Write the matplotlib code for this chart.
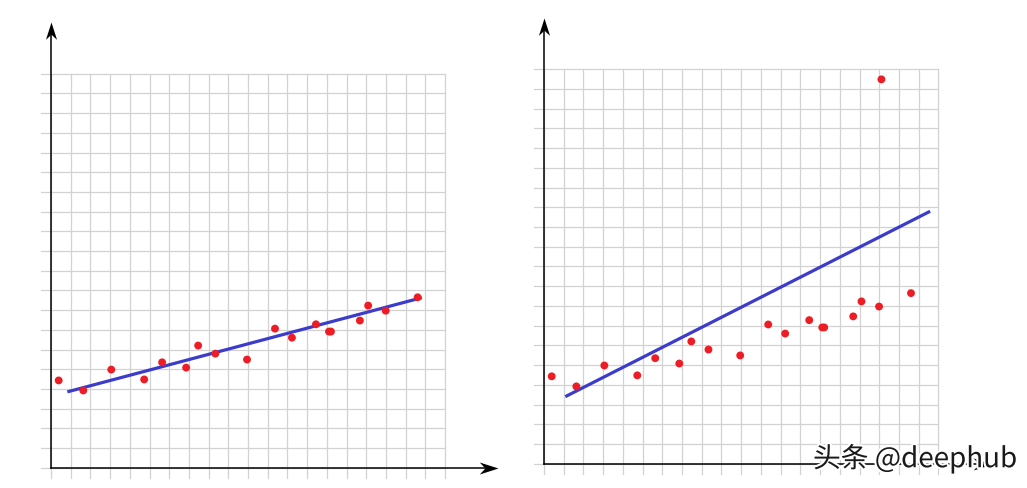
import matplotlib
matplotlib.use("Agg")
import matplotlib.pyplot as plt
from matplotlib import patheffects
from matplotlib.path import Path

# data in grid units (one unit = one grid cell)
x_pts = [0.39, 1.64, 3.06, 4.73, 5.64, 6.86, 7.47, 8.34, 9.95, 11.37, 12.23,
         13.45, 14.11, 14.21, 15.68, 16.10, 16.99, 18.61]
y_pts = [4.43, 3.92, 4.98, 4.48, 5.35, 5.08, 6.20, 5.79, 5.49, 7.06, 6.60,
         7.28, 6.91, 6.91, 7.47, 8.23, 7.97, 8.65]

# the extra point in the right chart
outlier_x = [17.11]
outlier_y = [19.49]

# fitted lines
fit_left_x = [0.83, 18.82]
fit_left_y = [3.85, 8.63]
fit_right_x = [1.08, 19.58]
fit_right_y = [3.40, 12.80]

W, H = 1027, 488
fig = plt.figure(figsize=(W / 100, H / 100), dpi=100)

RED = "#ee1c25"
BLUE = "#3c3ccc"
GRID = "#d2d2d2"

# arrow heads with a notched back, tip at (0, 0)
up_head = Path([(0, 0), (-0.32, -1), (0, -0.7), (0.32, -1), (0, 0)],
               [Path.MOVETO, Path.LINETO, Path.LINETO, Path.LINETO, Path.CLOSEPOLY])
right_head = Path([(0, 0), (-1, 0.32), (-0.7, 0), (-1, -0.32), (0, 0)],
                  [Path.MOVETO, Path.LINETO, Path.LINETO, Path.LINETO, Path.CLOSEPOLY])


def make_axes(ox, oy, unit):
    # ox, oy: pixel position of the origin, unit: pixels per grid cell
    x0, x1 = -1.2, 23.2
    y0, y1 = -1.0, 23.2
    left = ox + x0 * unit
    bottom = oy - y0 * unit
    rect = [left / W, (H - bottom) / H, (x1 - x0) * unit / W, (y1 - y0) * unit / H]
    ax = fig.add_axes(rect)
    ax.set_xlim(x0, x1)
    ax.set_ylim(y0, y1)
    ax.axis("off")
    ax.patch.set_visible(False)

    # grid paper
    for i in range(21):
        ax.plot([i, i], [-0.5, 20], color=GRID, lw=0.9, zorder=1)
        ax.plot([-0.5, 20], [i, i], color=GRID, lw=0.9, zorder=1)

    # axes with arrows
    ax.plot([0, 22.2], [0, 0], color="black", lw=1.1, zorder=2, clip_on=False)
    ax.plot([0, 0], [0, 22.1], color="black", lw=1.1, zorder=2, clip_on=False)
    ax.plot([22.7], [0], marker=right_head, ms=27, color="black", mew=0,
            zorder=2, clip_on=False)
    ax.plot([0], [22.6], marker=up_head, ms=25, color="black", mew=0,
            zorder=2, clip_on=False)
    return ax


ax1 = make_axes(51, 467.7, 19.7)
ax1.plot(fit_left_x, fit_left_y, color=BLUE, lw=2.3, solid_capstyle="butt", zorder=3)
ax1.scatter(x_pts, y_pts, s=32, color=RED, edgecolors="none", zorder=4)

ax2 = make_axes(544, 463.7, 19.72)
ax2.plot(fit_right_x, fit_right_y, color=BLUE, lw=2.3, solid_capstyle="butt", zorder=3)
ax2.scatter(x_pts + outlier_x, y_pts + outlier_y, s=32, color=RED,
            edgecolors="none", zorder=4)

fig.text(813 / W, 1 - 459 / H, "头条 @deephub", ha="left", va="center",
         fontsize=20, family=["Noto Sans CJK SC", "DejaVu Sans"], color="#1a1a1a",
         path_effects=[patheffects.withStroke(linewidth=3, foreground="white")])

fig.savefig("out.png", dpi=100)
